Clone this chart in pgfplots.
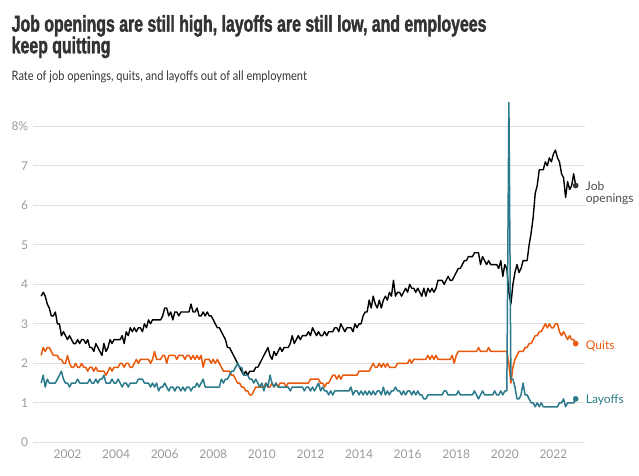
\documentclass[border=0pt]{standalone}
\usepackage{pgfplots}
\pgfplotsset{compat=1.18}
\usepackage{pgfplotstable}
\usepackage{fontspec}
\setmainfont{Lato}
\newfontfamily\titlefont[FakeStretch=0.69, FakeBold=1.6]{Liberation Sans}
\newfontfamily\subfont[FakeStretch=0.85]{Lato}

\definecolor{quitsorange}{HTML}{E8590C}
\definecolor{layoffteal}{HTML}{2B7A8B}
\definecolor{titlegray}{HTML}{333333}
\definecolor{tickgray}{HTML}{9A9A9A}

% date, job openings, quits, layoffs (rate, %)
\pgfplotstableread{
x jo qu lo
2000.917 3.7 2.2 1.5
2001.000 3.8 2.4 1.7
2001.083 3.7 2.3 1.4
2001.167 3.5 2.4 1.6
2001.250 3.4 2.4 1.5
2001.333 3.2 2.3 1.5
2001.417 3.2 2.2 1.5
2001.500 3.3 2.2 1.5
2001.583 3.0 2.2 1.6
2001.667 3.0 2.1 1.7
2001.750 2.7 2.1 1.8
2001.833 2.8 2.0 1.6
2001.917 2.7 2.0 1.5
2002.000 2.6 2.2 1.5
2002.083 2.7 2.0 1.4
2002.167 2.6 1.9 1.5
2002.250 2.5 1.9 1.5
2002.333 2.5 2.0 1.5
2002.417 2.6 1.9 1.6
2002.500 2.5 1.9 1.5
2002.583 2.6 2.0 1.5
2002.667 2.6 1.9 1.5
2002.750 2.5 1.9 1.5
2002.833 2.6 1.8 1.5
2002.917 2.4 1.9 1.6
2003.000 2.4 1.9 1.5
2003.083 2.3 1.8 1.5
2003.167 2.5 1.9 1.6
2003.250 2.4 1.8 1.5
2003.333 2.3 1.8 1.6
2003.417 2.2 1.8 1.6
2003.500 2.5 1.8 1.7
2003.583 2.3 1.7 1.5
2003.667 2.4 1.8 1.5
2003.750 2.6 1.9 1.5
2003.833 2.5 1.8 1.6
2003.917 2.6 1.9 1.5
2004.000 2.6 1.9 1.5
2004.083 2.6 1.9 1.6
2004.167 2.6 2.0 1.5
2004.250 2.7 2.0 1.4
2004.333 2.5 1.9 1.5
2004.417 2.8 2.0 1.5
2004.500 2.7 2.0 1.4
2004.583 2.9 1.9 1.5
2004.667 2.8 1.9 1.5
2004.750 2.9 2.0 1.5
2004.833 2.8 2.1 1.5
2004.917 2.9 2.0 1.6
2005.000 2.9 2.1 1.6
2005.083 2.8 2.1 1.6
2005.167 3.0 2.1 1.5
2005.250 2.9 2.1 1.5
2005.333 3.1 2.1 1.5
2005.417 3.0 2.0 1.4
2005.500 3.1 2.1 1.5
2005.583 3.1 2.3 1.4
2005.667 3.1 2.1 1.5
2005.750 3.1 2.1 1.3
2005.833 3.1 2.1 1.4
2005.917 3.2 2.2 1.4
2006.000 3.4 2.2 1.5
2006.083 3.4 2.0 1.4
2006.167 3.2 2.2 1.3
2006.250 3.3 2.2 1.4
2006.333 3.1 2.2 1.4
2006.417 3.3 2.2 1.3
2006.500 3.3 2.1 1.4
2006.583 3.2 2.2 1.4
2006.667 3.3 2.2 1.3
2006.750 3.3 2.2 1.4
2006.833 3.3 2.1 1.3
2006.917 3.3 2.2 1.4
2007.000 3.3 2.2 1.4
2007.083 3.5 2.1 1.3
2007.167 3.3 2.2 1.4
2007.250 3.3 2.1 1.4
2007.333 3.4 2.2 1.5
2007.417 3.2 2.1 1.4
2007.500 3.2 2.2 1.5
2007.583 3.3 1.9 1.6
2007.667 3.2 2.1 1.4
2007.750 3.3 2.1 1.4
2007.833 3.2 2.1 1.4
2007.917 3.2 2.0 1.4
2008.000 3.1 2.1 1.4
2008.083 3.0 2.0 1.4
2008.167 2.9 2.1 1.4
2008.250 2.9 2.0 1.4
2008.333 2.8 1.9 1.6
2008.417 2.7 1.8 1.5
2008.500 2.6 1.8 1.6
2008.583 2.4 1.8 1.6
2008.667 2.4 1.8 1.7
2008.750 2.3 1.7 1.8
2008.833 2.2 1.7 1.8
2008.917 2.1 1.6 1.9
2009.000 2.0 1.5 2.0
2009.083 1.9 1.5 1.9
2009.167 1.8 1.4 1.9
2009.250 1.7 1.4 1.7
2009.333 1.8 1.3 1.7
2009.417 1.7 1.3 1.7
2009.500 1.8 1.2 1.6
2009.583 1.8 1.2 1.6
2009.667 1.8 1.3 1.5
2009.750 1.9 1.4 1.6
2009.833 1.9 1.4 1.5
2009.917 2.0 1.4 1.4
2010.000 2.1 1.4 1.5
2010.083 2.2 1.4 1.3
2010.167 2.3 1.5 1.5
2010.250 2.4 1.4 1.4
2010.333 2.2 1.4 1.7
2010.417 2.1 1.5 1.5
2010.500 2.3 1.4 1.4
2010.583 2.2 1.5 1.5
2010.667 2.3 1.4 1.4
2010.750 2.4 1.5 1.4
2010.833 2.3 1.5 1.4
2010.917 2.4 1.5 1.4
2011.000 2.4 1.4 1.4
2011.083 2.4 1.5 1.4
2011.167 2.5 1.5 1.3
2011.250 2.7 1.5 1.4
2011.333 2.5 1.5 1.4
2011.417 2.6 1.5 1.4
2011.500 2.7 1.5 1.4
2011.583 2.6 1.5 1.4
2011.667 2.7 1.5 1.4
2011.750 2.7 1.5 1.3
2011.833 2.7 1.5 1.4
2011.917 2.8 1.5 1.4
2012.000 2.7 1.6 1.3
2012.083 2.9 1.6 1.4
2012.167 2.8 1.6 1.3
2012.250 2.7 1.6 1.4
2012.333 2.8 1.6 1.5
2012.417 2.7 1.5 1.3
2012.500 2.7 1.5 1.4
2012.583 2.8 1.4 1.3
2012.667 2.7 1.5 1.3
2012.750 2.8 1.5 1.2
2012.833 2.8 1.6 1.3
2012.917 2.8 1.7 1.2
2013.000 2.9 1.7 1.3
2013.083 2.9 1.6 1.3
2013.167 2.8 1.7 1.3
2013.250 3.0 1.6 1.3
2013.333 2.9 1.7 1.3
2013.417 2.8 1.7 1.3
2013.500 2.9 1.7 1.3
2013.583 2.9 1.7 1.3
2013.667 2.9 1.7 1.4
2013.750 2.8 1.7 1.2
2013.833 3.0 1.7 1.3
2013.917 2.9 1.7 1.3
2014.000 3.0 1.8 1.2
2014.083 3.0 1.8 1.3
2014.167 3.2 1.8 1.2
2014.250 3.3 1.8 1.3
2014.333 3.3 1.8 1.2
2014.417 3.6 1.8 1.3
2014.500 3.4 1.9 1.2
2014.583 3.7 2.0 1.3
2014.667 3.5 1.9 1.2
2014.750 3.4 1.9 1.3
2014.833 3.6 2.0 1.3
2014.917 3.4 1.9 1.2
2015.000 3.6 2.0 1.4
2015.083 3.7 1.9 1.2
2015.167 3.6 2.0 1.3
2015.250 3.8 1.9 1.2
2015.333 3.7 1.9 1.3
2015.417 4.1 1.9 1.3
2015.500 3.7 1.9 1.4
2015.583 3.8 2.0 1.3
2015.667 3.8 2.0 1.3
2015.750 3.7 2.0 1.2
2015.833 3.8 2.0 1.3
2015.917 3.9 2.0 1.2
2016.000 3.8 2.0 1.3
2016.083 4.0 2.1 1.3
2016.167 3.9 2.0 1.2
2016.250 3.9 2.1 1.3
2016.333 3.8 2.1 1.2
2016.417 3.9 2.1 1.3
2016.500 3.8 2.1 1.2
2016.583 3.7 2.1 1.2
2016.667 3.9 2.1 1.1
2016.750 3.7 2.1 1.1
2016.833 3.9 2.2 1.2
2016.917 3.8 2.1 1.2
2017.000 3.9 2.2 1.2
2017.083 3.8 2.1 1.2
2017.167 3.9 2.2 1.2
2017.250 4.1 2.1 1.2
2017.333 4.1 2.1 1.2
2017.417 4.1 2.1 1.2
2017.500 4.0 2.1 1.3
2017.583 4.1 2.1 1.3
2017.667 4.2 2.1 1.2
2017.750 4.1 2.1 1.2
2017.833 4.1 2.2 1.2
2017.917 4.2 2.0 1.2
2018.000 4.3 2.2 1.2
2018.083 4.4 2.3 1.3
2018.167 4.4 2.3 1.2
2018.250 4.5 2.3 1.2
2018.333 4.6 2.3 1.2
2018.417 4.6 2.3 1.2
2018.500 4.7 2.3 1.2
2018.583 4.7 2.3 1.2
2018.667 4.7 2.3 1.2
2018.750 4.8 2.3 1.3
2018.833 4.8 2.3 1.2
2018.917 4.8 2.4 1.1
2019.000 4.5 2.3 1.2
2019.083 4.7 2.3 1.3
2019.167 4.6 2.3 1.2
2019.250 4.5 2.3 1.2
2019.333 4.6 2.4 1.2
2019.417 4.5 2.3 1.2
2019.500 4.5 2.3 1.2
2019.583 4.5 2.3 1.3
2019.667 4.5 2.3 1.2
2019.750 4.4 2.3 1.2
2019.833 4.6 2.3 1.3
2019.917 4.2 2.3 1.2
2020.000 4.5 2.3 1.3
2020.083 4.4 2.3 1.3
2020.167 3.8 2.0 8.6
2020.250 3.5 1.5 1.6
2020.333 4.0 1.9 1.6
2020.417 4.3 2.1 1.4
2020.500 4.5 2.2 1.1
2020.583 4.3 2.3 1.1
2020.667 4.4 2.3 1.2
2020.750 4.6 2.3 1.5
2020.833 4.6 2.4 1.2
2020.917 4.6 2.4 1.2
2021.000 5.0 2.5 1.1
2021.083 5.3 2.5 1.0
2021.167 5.7 2.6 1.0
2021.250 6.3 2.7 0.9
2021.333 6.5 2.7 1.0
2021.417 6.9 2.8 0.9
2021.500 6.9 2.8 1.0
2021.583 6.9 2.9 0.9
2021.667 7.1 3.0 0.9
2021.750 7.0 2.9 0.9
2021.833 7.2 3.0 0.9
2021.917 7.1 2.9 0.9
2022.000 7.3 2.9 0.9
2022.083 7.4 3.0 0.9
2022.167 7.2 3.0 0.9
2022.250 7.1 2.8 1.0
2022.333 6.8 2.7 1.0
2022.417 6.7 2.8 1.1
2022.500 6.2 2.7 0.9
2022.583 6.6 2.6 1.0
2022.667 6.4 2.7 1.0
2022.750 6.5 2.6 1.0
2022.833 6.8 2.6 1.0
2022.917 6.5 2.5 1.1
}\jolts

\begin{document}
\begin{tikzpicture}[x=1pt,y=1pt]
\path[use as bounding box] (0,0) rectangle (639,475);

% title and subtitle
\node[anchor=base west, inner sep=0pt, text=titlegray, font=\titlefont\bfseries\fontsize{23}{26}\selectfont]
  at (11.5,443.3) {Job openings are still high, layoffs are still low, and employees};
\node[anchor=base west, inner sep=0pt, text=titlegray, font=\titlefont\bfseries\fontsize{23}{26}\selectfont]
  at (11.5,421.7) {keep quitting};
\node[anchor=base west, inner sep=0pt, text=titlegray, font=\subfont\fontsize{13}{15}\selectfont]
  at (11.5,395) {Rate of job openings, quits, and layoffs out of all employment};

\begin{axis}[
  at={(33pt,32.7pt)}, anchor=south west,
  scale only axis, width=552pt, height=343.65pt,
  xmin=2000.58, xmax=2023.3, ymin=0, ymax=8.7,
  clip=false,
  axis line style={draw=none},
  major tick length=0pt,
  tick style={draw=none},
  ytick={0,1,2,3,4,5,6,7,8},
  yticklabels={0,1,2,3,4,5,6,7,8\%},
  xtick={2002,2004,2006,2008,2010,2012,2014,2016,2018,2020,2022},
  xticklabels={2002,2004,2006,2008,2010,2012,2014,2016,2018,2020,2022},
  ymajorgrids=true,
  grid style={color=black!12, line width=0.8pt},
  yticklabel style={font=\fontsize{12}{14}\selectfont, text=tickgray, inner sep=0pt, anchor=east, xshift=-4.7pt},
  xticklabel style={font=\fontsize{12}{14}\selectfont, text=tickgray, inner sep=0pt, anchor=north, yshift=-7.7pt},
]
\addplot[color=quitsorange, line width=1.5pt, line join=round] table[x=x, y=qu] {\jolts};
\addplot[color=black, line width=1.4pt, line join=round] table[x=x, y=jo] {\jolts};
\addplot[color=layoffteal, line width=1.5pt, line join=round] table[x=x, y=lo] {\jolts};

% end dots
\addplot[only marks, mark=*, mark size=2.6pt, color=black!80] coordinates {(2022.917,6.5)};
\addplot[only marks, mark=*, mark size=2.6pt, color=quitsorange] coordinates {(2022.917,2.5)};
\addplot[only marks, mark=*, mark size=2.6pt, color=layoffteal] coordinates {(2022.917,1.1)};

% direct labels
\node[anchor=base west, inner sep=0pt, text=black!70, font=\fontsize{12}{14}\selectfont] at (axis cs:2023.33,6.37) {Job};
\node[anchor=base west, inner sep=0pt, text=black!70, font=\fontsize{12}{14}\selectfont] at (axis cs:2023.33,6.07) {openings};
\node[anchor=base west, inner sep=0pt, text=quitsorange, font=\fontsize{12}{14}\selectfont] at (axis cs:2023.33,2.35) {Quits};
\node[anchor=base west, inner sep=0pt, text=layoffteal, font=\fontsize{12}{14}\selectfont] at (axis cs:2023.33,0.97) {Layoffs};
\end{axis}
\end{tikzpicture}
\end{document}
